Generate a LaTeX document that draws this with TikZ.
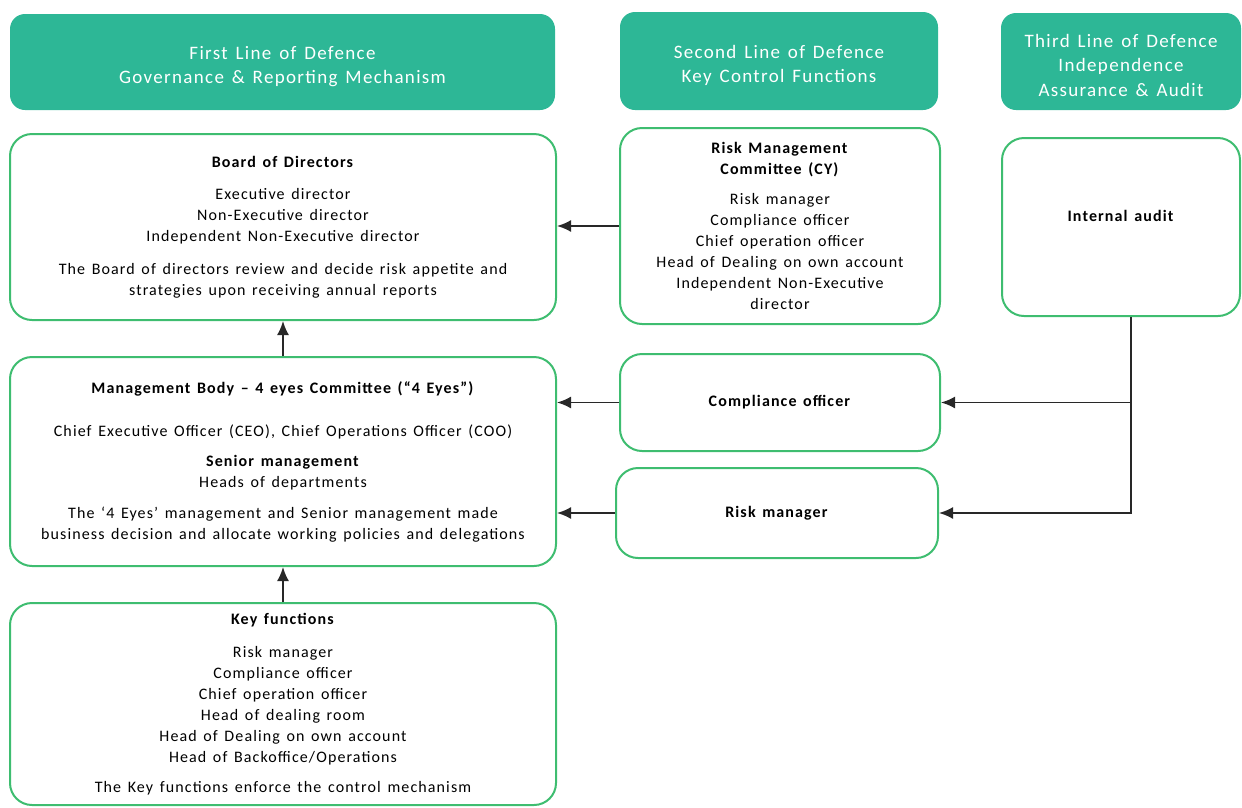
\documentclass[tikz,border=0pt]{standalone}
\usepackage{fontspec}
\setmainfont{Carlito}[LetterSpace=7,WordSpace=1.4]
\usetikzlibrary{arrows.meta}
\definecolor{headteal}{RGB}{45,183,150}
\definecolor{boxgreen}{RGB}{62,189,112}
\definecolor{linegray}{RGB}{40,40,40}

\begin{document}
\begin{tikzpicture}[
  x=1pt, y=-1pt,
  headbox/.style={
    fill=headteal,
    draw=none,
    rounded corners=15pt,
    text=white,
    align=center,
    inner sep=0pt,
    text height=47pt,
    font=\fontsize{19}{24.5}\selectfont
  },
  infobox/.style={
    draw=boxgreen,
    line width=2pt,
    rounded corners=22pt,
    fill=white,
    align=center,
    inner sep=0pt,
    font=\fontsize{16}{21}\selectfont
  },
  arrow/.style={-{Latex[length=14pt,width=12pt]}, draw=linegray, line width=1.8pt}
]
\useasboundingbox (0,0) rectangle (1242,807);
\node[headbox, minimum width=545pt, minimum height=96pt] (first) at (282.5,62) {First Line of Defence\\Governance \& Reporting Mechanism};
\node[headbox, minimum width=318pt, minimum height=98pt] (second) at (779,61) {Second Line of Defence\\Key Control Functions};
\node[headbox, minimum width=240pt, minimum height=97pt, text height=70pt] (third) at (1121,61.5) {Third Line of Defence\\Independence\\Assurance \& Audit};
\node[infobox, minimum width=546pt, minimum height=186pt] (board) at (283,227) {\textbf{Board of Directors}\\[11pt]Executive director\\Non-Executive director\\Independent Non-Executive director\\[12pt]The Board of directors review and decide risk appetite and\\strategies upon receiving annual reports};
\node[infobox, minimum width=320pt, minimum height=196pt] (rmc) at (780,226) {\textbf{Risk Management}\\\textbf{Committee (CY)}\\[9pt]Risk manager\\Compliance officer\\Chief operation officer\\Head of Dealing on own account\\Independent Non-Executive\\director};
\node[infobox, minimum width=238pt, minimum height=178pt, text depth=22pt] (audit) at (1121,227) {\textbf{Internal audit}};
\node[infobox, minimum width=546pt, minimum height=209pt] (mgmt) at (283,461.5) {\textbf{Management Body -- 4 eyes Committee (``4 Eyes'')}\\[22pt]Chief Executive Officer (CEO), Chief Operations Officer (COO)\\[9pt]\textbf{Senior management}\\Heads of departments\\[10pt]The `4 Eyes' management and Senior management made\\business decision and allocate working policies and delegations};
\node[infobox, minimum width=320pt, minimum height=97pt] (comp) at (780,402.5) {\textbf{Compliance officer}};
\node[infobox, minimum width=322pt, minimum height=90pt] (risk) at (777,513) {\textbf{Risk manager}};
\node[infobox, minimum width=546pt, minimum height=202pt] (keyfn) at (283,704) {\textbf{Key functions}\\[12pt]Risk manager\\Compliance officer\\Chief operation officer\\Head of dealing room\\Head of Dealing on own account\\Head of Backoffice/Operations\\[9pt]The Key functions enforce the control mechanism};
\draw[arrow] (rmc.west) -- (rmc.west -| board.east);
\draw[arrow] (mgmt.north) -- (board.south);
\draw[arrow] (keyfn.north) -- (mgmt.south);
\draw[arrow] (comp.west) -- (comp.west -| mgmt.east);
\draw[arrow] (risk.west) -- (risk.west -| mgmt.east);
\draw[arrow] ([xshift=10pt]audit.south) |- (comp.east);
\draw[arrow] ([xshift=10pt]audit.south) |- (risk.east);
\end{tikzpicture}
\end{document}
